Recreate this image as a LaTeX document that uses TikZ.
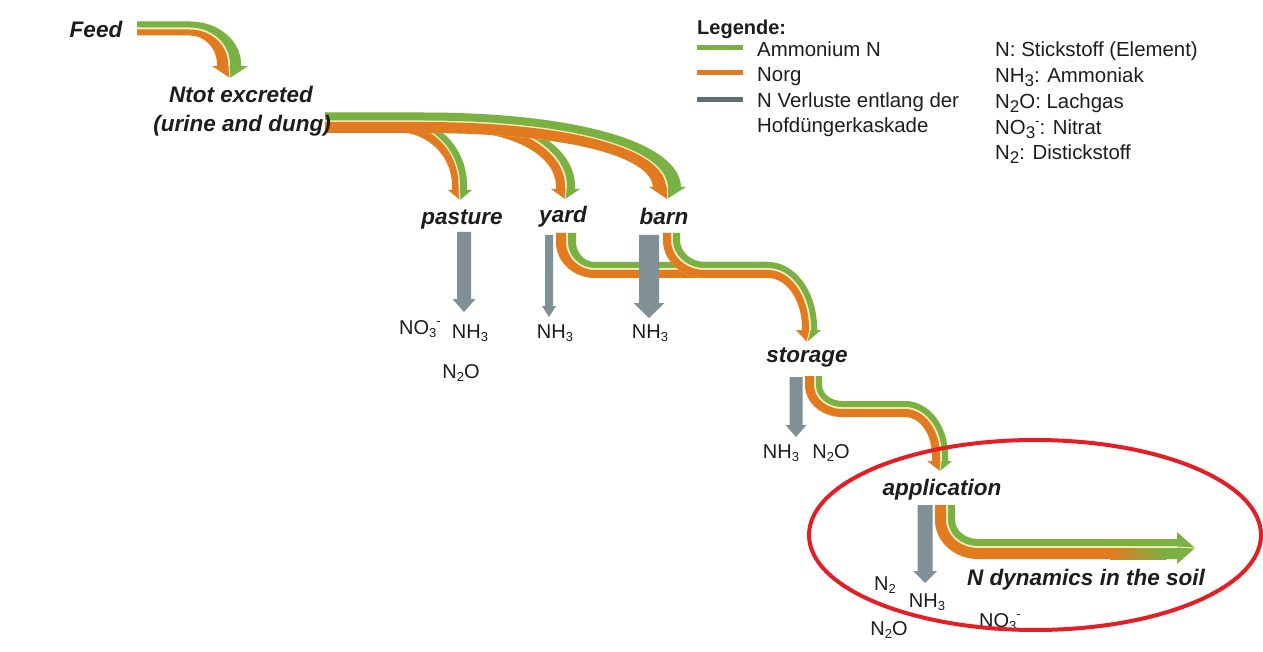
\documentclass[tikz,border=0pt]{standalone}
\usepackage{fontspec}
\setmainfont{Liberation Sans}
\definecolor{cAmm}{RGB}{121,178,66}
\definecolor{cOrg}{RGB}{226,122,32}
\definecolor{cPale}{RGB}{246,239,188}
\definecolor{cLoss}{RGB}{127,144,151}
\definecolor{cLegLoss}{RGB}{94,110,116}
\definecolor{cRed}{RGB}{228,30,36}
\definecolor{cText}{RGB}{30,28,28}
\def\kk{0.552}
% horizontal -> down band: xs, cx, cy, ye1, xe1, ye2, xe2, yend, colour
\newcommand\bandHD[9]{%
  \pgfmathsetmacro{\cAa}{#2+\kk*(#5-#2)}%
  \pgfmathsetmacro{\cAb}{#3-\kk*(#3-#4)}%
  \pgfmathsetmacro{\cBa}{#2+\kk*(#7-#2)}%
  \pgfmathsetmacro{\cBb}{#3-\kk*(#3-#6)}%
  \fill[#9] (#1,#4) -- (#2,#4) .. controls (\cAa,#4) and (#5,\cAb) .. (#5,#3) -- (#5,#8) -- (#7,#8) -- (#7,#3) .. controls (#7,\cBb) and (\cBa,#6) .. (#2,#6) -- (#1,#6) -- cycle;}
% down -> right band: ys, cx, cy, xa1, yh1, xa2, yh2, xend, colour
\newcommand\bandDR[9]{%
  \pgfmathsetmacro{\cAa}{#3+\kk*(#5-#3)}%
  \pgfmathsetmacro{\cAb}{#2-\kk*(#2-#4)}%
  \pgfmathsetmacro{\cBa}{#3+\kk*(#7-#3)}%
  \pgfmathsetmacro{\cBb}{#2-\kk*(#2-#6)}%
  \fill[#9] (#4,#1) -- (#4,#3) .. controls (#4,\cAa) and (\cAb,#5) .. (#2,#5) -- (#8,#5) -- (#8,#7) -- (#2,#7) .. controls (\cBb,#7) and (#6,\cBa) .. (#6,#3) -- (#6,#1) -- cycle;}
% split arrow head pointing down: xl, xm, xr, ytop, tipx, tipy
\newcommand\headD[6]{%
  \fill[cOrg] (#1,#4) -- (#2,#4) -- (#5,#6) -- cycle;
  \fill[cAmm] (#2,#4) -- (#3,#4) -- (#5,#6) -- cycle;
  \draw[cPale, line width=1pt] (#2,#4) -- (#5,#6);}
% grey loss arrow: x, shaft width, top, head top, tip, head width
\newcommand\lossarrow[6]{%
  \fill[cLoss] (#1-#2/2,#3) -- (#1+#2/2,#3) -- (#1+#2/2,#4) -- (#1+#6/2,#4) -- (#1,#5) -- (#1-#6/2,#4) -- (#1-#2/2,#4) -- cycle;}
\newcommand\lsub[1]{\raisebox{-0.35ex}{\fontsize{13}{13}\selectfont #1}}
\newcommand\lsup[1]{\raisebox{0.85ex}{\fontsize{13}{13}\selectfont #1}}
\newcommand\legsub[1]{\raisebox{-0.3ex}{\fontsize{17}{17}\selectfont #1}}
\tikzset{
  lbl/.style={font=\fontsize{22.5}{27}\selectfont\bfseries\itshape, anchor=base, inner sep=0pt, text=cText},
  chem/.style={font=\fontsize{20}{24}\selectfont, anchor=base, inner sep=0pt, text=cText},
  leg/.style={font=\fontsize{20.4}{24}\selectfont, anchor=base west, inner sep=0pt, text=cText},
  legline/.style={line width=5pt}
}
\begin{document}
\begin{tikzpicture}[x=1pt,y=-1pt]
\useasboundingbox (0,0) rectangle (1263,652);
\fill[white] (0,0) rectangle (1263,652);

% ---- Feed -> Ntot
\bandHD{137}{190}{64}{21.5}{241}{35.5}{217}{66}{cPale}
\bandHD{137}{190}{64}{21.5}{241}{27.5}{230}{66}{cAmm}
\bandHD{137}{190}{64}{29.5}{228}{35.5}{217}{66}{cOrg}
\headD{212}{229}{248}{66}{230}{78}

% ---- Ntot -> pasture
\bandHD{325}{397}{185}{116}{467}{132}{452}{190}{cPale}
\bandHD{325}{397}{185}{116}{467}{121.5}{460}{190}{cAmm}
\bandHD{325}{397}{185}{123}{458.5}{132}{452}{190}{cOrg}
\headD{448}{459}{472}{190}{460}{200}
% ---- Ntot -> yard
\bandHD{325}{460}{186}{115}{575}{132}{556}{189}{cPale}
\bandHD{325}{460}{186}{115}{575}{120.5}{567}{189}{cAmm}
\bandHD{325}{460}{186}{122.5}{565}{132}{556}{189}{cOrg}
\headD{551}{566}{580}{189}{565}{199}
% ---- Ntot -> barn
\def\kk{0.6}
\bandHD{325}{423}{188}{112.5}{681}{133}{653}{187}{cPale}
\bandHD{325}{423}{188}{112.5}{681}{120.5}{668}{187}{cAmm}
\bandHD{325}{423}{188}{122}{666}{133}{653}{187}{cOrg}
\def\kk{0.552}
\headD{649}{667}{686}{187}{667}{199}

% ---- yard -> storage
\bandDR{233}{595}{242}{556}{278}{576}{262}{762}{cPale}
\bandDR{233}{595}{242}{556}{278}{566}{270}{762}{cOrg}
\bandDR{233}{595}{242}{568}{268}{576}{262}{762}{cAmm}
% ---- barn -> storage
\bandDR{233}{705}{240}{663}{278}{680}{262}{765}{cPale}
\bandDR{233}{705}{240}{663}{278}{671}{270}{765}{cOrg}
\bandDR{233}{705}{240}{673}{268}{680}{262}{765}{cAmm}
% ---- into storage
\bandHD{760}{768}{328}{262}{817}{278}{802}{330}{cPale}
\bandHD{760}{768}{328}{262}{817}{268}{811}{330}{cAmm}
\bandHD{760}{768}{328}{270}{809}{278}{802}{330}{cOrg}
\headD{796}{810}{821}{330}{807}{342}

% ---- storage -> application
\bandDR{376}{842}{385}{805}{417}{822}{401}{880}{cPale}
\bandDR{376}{842}{385}{805}{417}{814}{409}{880}{cOrg}
\bandDR{376}{842}{385}{816}{407}{822}{401}{880}{cAmm}
\bandHD{878}{905}{455}{401}{948}{417}{932}{461}{cPale}
\bandHD{878}{905}{455}{401}{948}{407}{942}{461}{cAmm}
\bandHD{878}{905}{455}{409}{940}{417}{932}{461}{cOrg}
\headD{927}{941}{952}{461}{940}{471}

% ---- application -> soil
\bandDR{505}{978}{520}{935}{559}{955}{539}{1178}{cPale}
\bandDR{505}{978}{520}{935}{559}{946}{548}{1178}{cOrg}
\bandDR{505}{978}{520}{948}{546}{955}{539}{1178}{cAmm}
\fill[left color=cOrg, right color=cAmm] (1110,548) rectangle (1166,559);
\fill[cAmm] (1165,548) rectangle (1178.5,559);
\fill[cAmm] (1177,532) -- (1195,548) -- (1177,564) -- cycle;
\draw[cPale, line width=1pt] (1177,547) -- (1195,548);

% ---- losses
\lossarrow{464}{14}{232}{299}{312}{23}
\lossarrow{549}{8}{235}{306}{317}{14}
\lossarrow{649}{20}{235}{303}{318}{31}
\lossarrow{796}{13}{377}{425}{437}{21}
\lossarrow{925}{15}{505}{571}{583}{24}

% ---- stage labels
\node[lbl] (feed) at (96,38) {Feed};
\node[lbl] (ntot) at (241,103) {Ntot excreted};
\node[lbl] (ntotb) at (242,132) {(urine and dung)};
\node[lbl] (pasture) at (462,225) {pasture};
\node[lbl] (yard) at (563,223) {yard};
\node[lbl] (barn) at (664,225) {barn};
\node[lbl] (storage) at (807,362) {storage};
\node[lbl] (application) at (942,495) {application};
\node[lbl] (soil) at (1086,585) {N dynamics in the soil};

% ---- loss labels
\node[chem] (pNO) at (420,334) {NO\lsub{3}\lsup{-}};
\node[chem] (pNH) at (470,338) {NH\lsub{3}};
\node[chem] (pNtwoO) at (461,378) {N\lsub{2}O};
\node[chem] (yNH) at (555,338) {NH\lsub{3}};
\node[chem] (bNH) at (650,338) {NH\lsub{3}};
\node[chem] (sNH) at (781,458) {NH\lsub{3}};
\node[chem] (sNtwoO) at (831,458) {N\lsub{2}O};
\node[chem] (aNtwo) at (885,590) {N\lsub{2}};
\node[chem] (aNH) at (927,607) {NH\lsub{3}};
\node[chem] (aNtwoO) at (889,635) {N\lsub{2}O};
\node[chem] (aNO) at (1000,627) {NO\lsub{3}\lsup{-}};

% ---- legend
\node[leg, font=\fontsize{20}{24}\selectfont\bfseries] (legtitle) at (697,35) {Legende:};
\draw[legline, cAmm] (697,48) -- (743,48);
\draw[legline, cOrg] (697,73) -- (743,73);
\draw[legline, cLegLoss] (697,100) -- (743,100);
\node[leg] (l1) at (757,57) {Ammonium N};
\node[leg] (l2) at (757,82) {Norg};
\node[leg] (l3) at (757,108) {N Verluste entlang der};
\node[leg] (l4) at (757,133) {Hofdüngerkaskade};
\node[leg] (r1) at (995,57) {N: Stickstoff (Element)};
\node[leg] (r2) at (995,83) {NH\legsub{3}: Ammoniak};
\node[leg] (r3) at (995,109) {N\legsub{2}O: Lachgas};
\node[leg] (r4) at (995,135) {NO\legsub{3}\lsup{-}: Nitrat};
\node[leg] (r5) at (995,160) {N\legsub{2}: Distickstoff};

% ---- highlight
\draw[cRed, line width=4pt] (1035,535) ellipse [x radius=226, y radius=95];
\end{tikzpicture}
\end{document}
